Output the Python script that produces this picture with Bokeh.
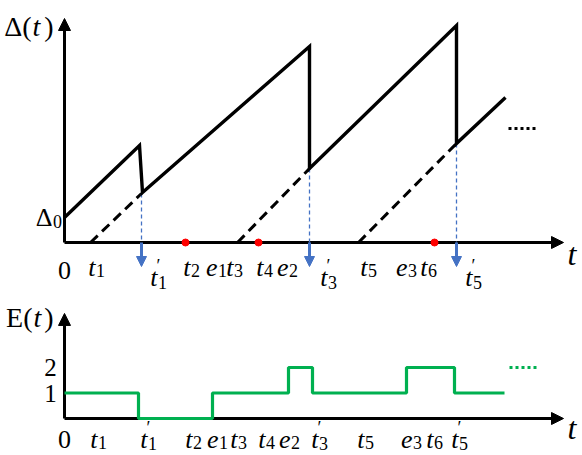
from bokeh.plotting import figure
from bokeh.models import Range1d, Arrow, NormalHead
from bokeh.core.properties import value
from bokeh.embed import file_html
from bokeh.resources import INLINE

# ---------------- data: top panel, age of information Delta(t) ----------------
saw_t = [0, 75, 78, 245, 245, 392, 392, 441]          # sawtooth vertices (time)
saw_age = [25, 97, 50, 196, 74, 217, 99, 145]         # sawtooth vertices (age)
gen_t = [26, 173, 294]                                # t1, t3, t5 (generation)
rcv_t = [77, 245, 392]                                # t1', t3', t5' (reception)
rcv_age = [49, 74, 99]                                # age right after reception
red_t = [121, 194, 370]                               # t2, t4, t6 (dropped)
delta0 = 25
t_axis_max = 499
age_axis_max = 224

top_base = ["t", "t", "t", "e", "t", "t", "e", "t", "t", "e", "t", "t"]
top_sub = ["1", "1", "2", "1", "3", "4", "2", "3", "5", "3", "6", "5"]
top_prime = [0, 1, 0, 0, 0, 0, 0, 1, 0, 0, 0, 1]
top_pos = [31, 93, 126, 153, 169, 199, 224, 263, 303, 343, 363, 408]

# ---------------- data: bottom panel, E(t) ----------------
e_t = [0, 74, 148, 224, 248, 342, 390, 440]
e_val = [1, 0, 1, 2, 1, 2, 1, 1]
e_ticks = [1, 2]
e_axis_max = 4.12

bot_base = ["t", "t", "t", "e", "t", "t", "e", "t", "t", "e", "t", "t"]
bot_sub = ["1", "1", "2", "1", "3", "4", "2", "3", "5", "3", "6", "5"]
bot_prime = [0, 1, 0, 0, 0, 0, 0, 1, 0, 0, 0, 1]
bot_pos = [33, 83, 128, 154, 173, 201, 226, 254, 300, 348, 369, 394]

# ---------------- layout (page pixels) ----------------
W = 580
H = 454
X0 = 64            # page x of the time origin
TOP_AX = 242       # page y of top time axis
BOT_AX = 418       # page y of bottom time axis
E_PX = 25.5        # pixels per unit of E

FONT = value("Liberation Serif")
BLACK = "black"
BLUE = "#4472C4"
GREEN = "#00B050"


def ty(py):
    return TOP_AX - py


def by(py):
    return (BOT_AX - py) / E_PX


p = figure(width=W, height=H, x_range=Range1d(-X0, W - X0),
           y_range=Range1d(ty(H), ty(0)), x_axis_type=None, y_axis_type=None,
           output_backend="svg", toolbar_location=None, min_border=0)
p.extra_y_ranges = {"E": Range1d(by(H), by(0))}
p.outline_line_color = None
p.grid.visible = False
p.background_fill_color = "white"
p.border_fill_color = "white"


def txt(x, y, s, size, style="normal", align="left", baseline="alphabetic",
        rng="default", **kw):
    p.text(x, y, text=s, text_font=FONT, text_font_style=style,
           text_font_size=size, text_align=align, text_baseline=baseline,
           text_color=BLACK, y_range_name=rng, **kw)


def labels(pos, base, sub, prime, y_norm, y_prime, rng, prime_drop):
    for flag, yy in ((0, y_norm), (1, y_prime)):
        xs = [x for x, f in zip(pos, prime) if f == flag]
        bs = [b for b, f in zip(base, prime) if f == flag]
        ss = [s for s, f in zip(sub, prime) if f == flag]
        ys = [yy] * len(xs)
        txt(xs, ys, bs, "26px", style="italic", align="right", rng=rng)
        txt(xs, ys, ss, "18px", rng=rng, x_offset=0.5,
            y_offset=prime_drop if flag else 3)
        if flag:
            txt(xs, ys, ["\u2032"] * len(xs), "18px", rng=rng,
                x_offset=-1, y_offset=-12)


def axis_arrow(x1, y1, rng="default"):
    p.add_layout(Arrow(end=NormalHead(size=12, fill_color=BLACK, line_color=BLACK),
                       x_start=0, y_start=0, x_end=x1, y_end=y1,
                       line_width=3, line_color=BLACK, level="underlay",
                       y_range_name=rng))


# ================= top panel =================
axis_arrow(0, age_axis_max)
axis_arrow(t_axis_max, 0)

p.segment(x0=gen_t, y0=[0] * 3, x1=rcv_t, y1=rcv_age, line_color=BLACK,
          line_width=3, line_dash="10 6")
p.segment(x0=rcv_t, y0=rcv_age, x1=rcv_t, y1=[0] * 3, line_color=BLUE,
          line_width=1.3, line_dash="4 3")
for t in rcv_t:
    p.add_layout(Arrow(end=NormalHead(size=10, fill_color=BLUE, line_color=BLUE),
                       x_start=t, y_start=0, x_end=t, y_end=-24,
                       line_width=3, line_color=BLUE))
p.line(saw_t, saw_age, line_color=BLACK, line_width=3.4, line_join="miter")
p.line([saw_t[-1] + 3, saw_t[-1] + 32], [114, 114], line_color=BLACK,
       line_width=3, line_dash="3 3")
p.scatter(red_t, [0] * 3, size=7, color="#FF0000")

txt([0], [ty(270)], ["0"], "26px", align="center")
labels(top_pos, top_base, top_sub, top_prime, ty(267), ty(277), "default", 5)
txt([t_axis_max + 4], [ty(253)], ["t"], "32px", style="italic")
txt([-33], [ty(26)], ["\u0394("], "28px", align="right")
txt([-32], [ty(26)], ["t"], "28px", style="italic")
txt([-11], [ty(26)], [")"], "28px", align="right")
txt([-12], [delta0], ["\u0394"], "26px", align="right")
txt([-11.5], [delta0], ["0"], "18px", y_offset=4)

# ================= bottom panel =================
axis_arrow(0, e_axis_max, "E")
axis_arrow(t_axis_max, 0, "E")
p.step(e_t, e_val, mode="after", line_color=GREEN, line_width=3.2, y_range_name="E")
p.line([e_t[-1] + 5, e_t[-1] + 33], [2, 2], line_color=GREEN, line_width=3,
       line_dash="3 3", y_range_name="E")

txt([-14] * 2, e_ticks, [str(v) for v in e_ticks], "25px", align="center",
    baseline="middle", rng="E")
txt([0], [by(439)], ["0"], "26px", align="center", rng="E")
labels(bot_pos, bot_base, bot_sub, bot_prime, by(439), by(439), "E", 4)
txt([t_axis_max + 4], [by(427)], ["t"], "32px", style="italic", rng="E")
txt([-32], [by(317)], ["E("], "28px", align="right", rng="E")
txt([-31], [by(317)], ["t"], "28px", style="italic", rng="E")
txt([-11], [by(317)], [")"], "28px", align="right", rng="E")

open("out.html", "w").write(file_html(p, INLINE))
